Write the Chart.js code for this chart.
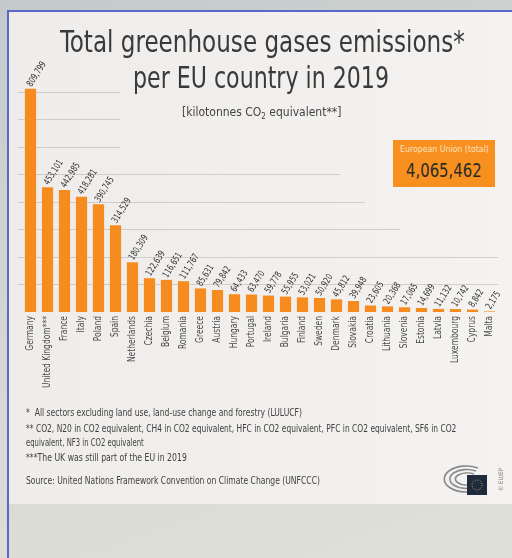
<!DOCTYPE html>
<html>
<head>
<meta charset="utf-8">
<script src="https://cdn.jsdelivr.net/npm/chart.js@4.4.1/dist/chart.umd.min.js"></script>
<style>
  html, body { margin: 0; padding: 0; }
  body {
    width: 512px; height: 558px; overflow: hidden; position: relative;
    background: linear-gradient(160deg, #c4cacc 0%, #d8dad4 60%, #e0e0da 100%);
    font-family: "DejaVu Sans Condensed", "Liberation Sans Narrow", sans-serif;
  }
  #card {
    position: absolute; left: 7px; top: 10px; width: 505px; height: 492px;
    background: linear-gradient(90deg, #efedeb 0%, #f2f0ee 60%, #f4f3f1 100%);
    border-top: 2px solid #5b68c9; border-left: 2px solid #5b68c9;
  }
  #leftline { position: absolute; left: 7px; top: 10px; width: 2px; height: 548px; background: #5b68c9; }
  #chartwrap { position: absolute; left: 0; top: 0; width: 512px; height: 558px; }
  .txt { position: absolute; white-space: nowrap; transform-origin: left top; }
  .t1 { font-size: 31px; color: #3a3a3a; }
  #sub { font-size: 12px; color: #444; }
  #eubox { position: absolute; left: 393px; top: 140px; width: 102px; height: 47px; background: #f7901e; }
  #eu1 { font-size: 9px; color: #fde3c4; }
  #eu2 { font-size: 20px; color: #2a2a2a; }
  .note { font-size: 11px; color: #3f3f3f; }
  #logo { position: absolute; left: 438px; top: 460px; }
  #copy { left: 497px; top: 491px; font-size: 6px; color: #777; transform: rotate(-90deg); }
</style>
</head>
<body>
<div id="card"></div>
<div id="leftline"></div>
<div id="chartwrap"><canvas id="myChart" width="512" height="558"></canvas></div>

<div class="txt t1" data-x="60" data-y="23" data-w="405">Total greenhouse gases emissions*</div>
<div class="txt t1" data-x="133" data-y="59" data-w="256">per EU country in 2019</div>
<div class="txt" id="sub" data-x="182" data-y="105" data-w="159">[kilotonnes CO<sub style="font-size:8px">2</sub> equivalent**]</div>
<div id="eubox"></div>
<div class="txt" id="eu1" data-x="400" data-y="144" data-w="89">European Union (total)</div>
<div class="txt" id="eu2" data-x="406" data-y="158" data-w="76">4,065,462</div>

<div class="txt note" data-x="26" data-y="406" data-w="276">*&nbsp; All sectors excluding land use, land-use change and forestry (LULUCF)</div>
<div class="txt note" data-x="26" data-y="422" data-w="430">** CO2, N20 in CO2 equivalent, CH4 in CO2 equivalent, HFC in CO2 equivalent, PFC in CO2 equivalent, SF6 in CO2</div>
<div class="txt note" data-x="26" data-y="436" data-w="118">equivalent, NF3 in CO2 equivalent</div>
<div class="txt note" data-x="26" data-y="451" data-w="161">***The UK was still part of the EU in 2019</div>
<div class="txt note" data-x="26" data-y="474" data-w="294">Source: United Nations Framework Convention on Climate Change (UNFCCC)</div>

<svg id="logo" width="50" height="36" viewBox="0 0 50 36">
  <g fill="none" stroke="#8a8a8a" stroke-width="1.6">
    <path d="M40 8 A22 13 0 1 0 40 30"/>
    <path d="M38 11 A17 9.5 0 1 0 38 27"/>
    <path d="M36 14 A12 6 0 1 0 36 24"/>
  </g>
  <rect x="29" y="15" width="20" height="20" fill="#1f2a3c"/>
  <circle cx="39" cy="25" r="5" fill="none" stroke="#c9b64a" stroke-width="1" stroke-dasharray="1 1.6"/>
</svg>
<div class="txt" id="copy">© EU/EP</div>

<script>
const countries = [
  "Germany", "United Kingdom***", "France", "Italy", "Poland", "Spain",
  "Netherlands", "Czechia", "Belgium", "Romania", "Greece", "Austria",
  "Hungary", "Portugal", "Ireland", "Bulgaria", "Finland", "Sweden",
  "Denmark", "Slovakia", "Croatia", "Lithuania", "Slovenia", "Estonia",
  "Latvia", "Luxembourg", "Cyprus", "Malta",
];

const emissions = [
  809799, 453101, 442985, 418281, 390745, 314529,
  180309, 122639, 116651, 111767, 85631, 79842,
  64433, 63470, 59778, 55955, 53021, 50920,
  45812, 39948, 23605, 20368, 17065, 14699,
  11132, 10742, 8842, 2175,
];

const gridValues = [100000, 200000, 300000, 400000, 500000, 600000, 700000, 800000];

const condensed = '"DejaVu Sans Condensed", "Liberation Sans Narrow", sans-serif';

// squeeze the html texts to the widths of the narrow font in the original
document.querySelectorAll(".txt[data-w]").forEach((el) => {
  el.style.left = el.dataset.x + "px";
  el.style.top = el.dataset.y + "px";
  const k = el.dataset.w / el.offsetWidth;
  el.style.transform = "scaleX(" + k.toFixed(3) + ")";
});

// faint horizontal lines, fading out behind the title
const gridPlugin = {
  id: "softGrid",
  beforeDatasetsDraw(chart) {
    const { ctx, chartArea, scales } = chart;
    const ends = { 500000: 340, 400000: 365, 300000: 400 };
    ctx.save();
    ctx.strokeStyle = "rgba(196,194,192,0.75)";
    ctx.lineWidth = 1;
    gridValues.forEach((v) => {
      const y = Math.round(scales.y.getPixelForValue(v)) + 0.5;
      let right = chartArea.right;
      if (v >= 600000) right = chartArea.left + 98;
      else if (ends[v]) right = ends[v];
      ctx.beginPath();
      ctx.moveTo(chartArea.left - 4, y);
      ctx.lineTo(right, y);
      ctx.stroke();
    });
    ctx.restore();
  },
};

// slanted value labels above the bars and upright category names below
const labelPlugin = {
  id: "labels",
  afterDatasetsDraw(chart) {
    const { ctx, chartArea, scales } = chart;
    const meta = chart.getDatasetMeta(0);
    ctx.save();
    ctx.font = "9.5px " + condensed;
    ctx.fillStyle = "#2e2e2e";
    ctx.textAlign = "left";
    ctx.textBaseline = "middle";
    meta.data.forEach((bar, i) => {
      ctx.save();
      ctx.translate(bar.x - 1, bar.y - 3);
      ctx.rotate(-58 * Math.PI / 180);
      ctx.scale(0.78, 1);
      ctx.fillText(emissions[i].toLocaleString("en-US"), 0, 0);
      ctx.restore();
    });
    ctx.font = "10.5px " + condensed;
    ctx.fillStyle = "#4a4a4a";
    ctx.textAlign = "right";
    countries.forEach((c, i) => {
      ctx.save();
      ctx.translate(scales.x.getPixelForTick(i), chartArea.bottom + 4);
      ctx.rotate(-Math.PI / 2);
      ctx.scale(0.8, 1);
      ctx.fillText(c, 0, 0);
      ctx.restore();
    });
    ctx.restore();
  },
};

const ctx = document.getElementById("myChart");
new Chart(ctx, {
  type: "bar",
  data: {
    labels: countries,
    datasets: [
      {
        label: "Emissions",
        data: emissions,
        backgroundColor: "#f68c1f",
        borderWidth: 0,
        barPercentage: 0.66,
        categoryPercentage: 1,
      },
    ],
  },
  options: {
    responsive: false,
    animation: false,
    layout: {
      padding: { left: 22, right: 14, top: 64, bottom: 0 },
    },
    plugins: {
      legend: { display: false },
      tooltip: { enabled: false },
    },
    scales: {
      x: {
        grid: { display: false, drawTicks: false },
        border: { display: false },
        ticks: { display: false },
        afterFit: (scale) => {
          scale.height = 246;
        },
      },
      y: {
        display: false,
        min: 0,
        max: 900000,
      },
    },
  },
  plugins: [gridPlugin, labelPlugin],
});
</script>
</body>
</html>
